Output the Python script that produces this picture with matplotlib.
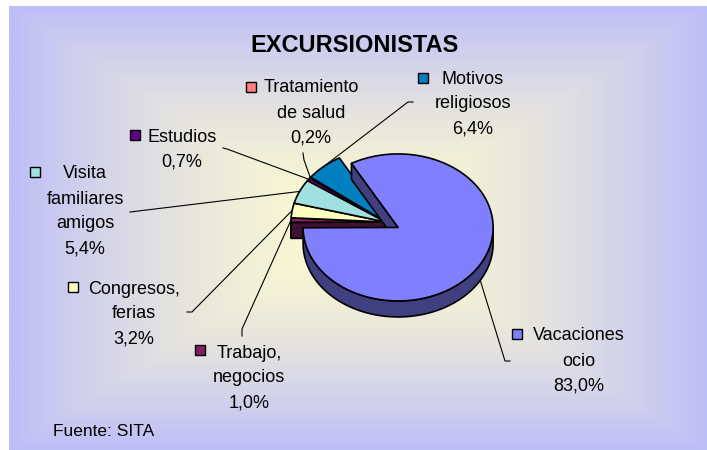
import numpy as np
import matplotlib.pyplot as plt
from matplotlib.patches import Polygon, Rectangle
from matplotlib.colors import to_rgb

plt.rcParams['font.family'] = ['Liberation Sans', 'DejaVu Sans']

# values
categories = ['Vacaciones ocio', 'Trabajo, negocios', 'Congresos, ferias',
              'Visita familiares amigos', 'Estudios', 'Tratamiento de salud',
              'Motivos religiosos']
label_lines = [['Vacaciones', 'ocio'], ['Trabajo,', 'negocios'],
               ['Congresos,', 'ferias'], ['Visita', 'familiares', 'amigos'],
               ['Estudios'], ['Tratamiento', 'de salud'], ['Motivos', 'religiosos']]
shares = [83.0, 1.0, 3.2, 5.4, 0.7, 0.2, 6.4]
slice_colors = ['#8080ff', '#802060', '#ffffc0', '#a0e0e0', '#600080', '#ff8080', '#0080c0']
explode = [14, 0, 0, 0, 0, 0, 0]

title = 'EXCURSIONISTAS'
source = 'Fuente: SITA'

# layout, in pixels of the 707x450 canvas
CX, CY = 386, 222
RX, RY = 95, 73.5
DEPTH = 16
START = 119.4
LINE_H = 25

# text centre x, first line y, key centre, leader start points
label_pos = [
    (579, 334, (517, 334), [(510, 361), (505, 361)]),
    (249, 351, (200, 350), [(242, 336), (242, 329)]),
    (134, 287, (73, 287), [(187, 312), (192, 312)]),
    (85, 172, (35, 172), [(130, 212)]),
    (182, 135, (135, 135), [(223, 148), (227, 149)]),
    (311, 86, (251, 87), [(303, 153), (304, 160)]),
    (473, 77, (423, 78), [(413, 102), (408, 102)]),
]

fig = plt.figure(figsize=(7.07, 4.5), dpi=100)
ax = fig.add_axes([0, 0, 1, 1])
ax.set_xlim(0, 707)
ax.set_ylim(450, 0)
ax.axis('off')

# background panel, gradient from centre (yellow) to border (lavender)
x0, x1, y0, y1 = 9, 708, 6, 451
gx, gy = np.meshgrid(np.linspace(-1, 1, 350), np.linspace(-1, 1, 220))
t = np.maximum(np.abs(gx), np.abs(gy))[..., None] ** 1.5
inner = np.array([252, 250, 208]) / 255
outer = np.array([190, 190, 248]) / 255
grad = inner * (1 - t) + outer * t
ax.imshow(grad, extent=[x0, x1, y1, y0], aspect='auto', zorder=0, interpolation='bilinear')


def rim(cx, cy, a, dz=0):
    a = np.radians(a)
    return np.column_stack([cx + RX * np.cos(a), cy - RY * np.sin(a) + dz])


frac = np.array(shares) / sum(shares)
ends = START - 360 * np.cumsum(frac)
starts = ends + 360 * frac
n = len(shares)

slices = []
for i in range(n):
    a0, a1 = starts[i], ends[i]
    mid = (a0 + a1) / 2
    cx = CX + explode[i] * np.cos(np.radians(mid))
    cy = CY - explode[i] * RY / RX * np.sin(np.radians(mid))
    slices.append((a0, a1, mid, cx, cy))

# draw: pieces sitting back first, the exploded slice last
lw = 1.2
for group in (0, 1):
    walls = []
    tops = []
    for i in range(n):
        if (explode[i] > 0) != bool(group):
            continue
        a0, a1, mid, cx, cy = slices[i]
        side = tuple(np.array(to_rgb(slice_colors[i])) * 0.5)
        apex = np.array([[cx, cy]])
        # outer wall, front half only
        th = np.linspace(a0, a1, 400)
        front = np.sin(np.radians(th)) < 0
        idx = np.where(front)[0]
        if len(idx) > 1:
            runs = np.split(idx, np.where(np.diff(idx) > 1)[0] + 1)
            for r in runs:
                if len(r) < 2:
                    continue
                top = rim(cx, cy, th[r])
                bot = rim(cx, cy, th[r], DEPTH)[::-1]
                walls.append((top[:, 1].mean(), np.vstack([top, bot]), side))
        # cut faces
        prev_ex = explode[(i - 1) % n] > 0
        next_ex = explode[(i + 1) % n] > 0
        own_ex = explode[i] > 0
        if np.cos(np.radians(a0)) < 0 and (own_ex or prev_ex):
            p = rim(cx, cy, [a0])
            face = np.vstack([apex, p, p + [0, DEPTH], apex + [0, DEPTH]])
            walls.append((face[:, 1].mean(), face, side))
        if np.cos(np.radians(a1)) > 0 and (own_ex or next_ex):
            p = rim(cx, cy, [a1])
            face = np.vstack([apex, p, p + [0, DEPTH], apex + [0, DEPTH]])
            walls.append((face[:, 1].mean(), face, side))
        arc = rim(cx, cy, np.linspace(a0, a1, max(int(abs(a0 - a1)) + 2, 3)))
        tops.append((np.vstack([apex, arc]), slice_colors[i]))
    for _, poly, c in sorted(walls, key=lambda w: w[0]):
        ax.add_patch(Polygon(poly, closed=True, facecolor=c, edgecolor='black',
                             lw=lw, joinstyle='round', zorder=2 + group * 2))
    for poly, c in tops:
        ax.add_patch(Polygon(poly, closed=True, facecolor=c, edgecolor='black',
                             lw=lw, joinstyle='round', zorder=3 + group * 2))

# labels, keys and leader lines
for i in range(n):
    tx, ty, key, lead = label_pos[i]
    lines = label_lines[i] + [f'{shares[i]:.1f}%'.replace('.', ',')]
    for k, s in enumerate(lines):
        ax.text(tx, ty + k * LINE_H + 6.5, s, ha='center', va='baseline',
                fontsize=13, color='black', zorder=10)
    ax.add_patch(Rectangle((key[0] - 5, key[1] - 5), 10, 10, facecolor=slice_colors[i],
                           edgecolor='black', lw=1.0, zorder=10))
    a0, a1, mid, cx, cy = slices[i]
    end = rim(cx, cy, [mid])[0]
    if np.sin(np.radians(mid)) < 0:
        end = end + [0, DEPTH]
    pts = np.array(lead + [tuple(end)])
    ax.plot(pts[:, 0], pts[:, 1], color='black', lw=0.8, zorder=9)

ax.text(354, 52.5, title, ha='center', va='baseline', fontsize=17,
        fontweight='bold', color='black', zorder=10)
ax.text(53, 436, source, ha='left', va='baseline', fontsize=12.5, color='black', zorder=10)

fig.savefig('out.png', dpi=100)
